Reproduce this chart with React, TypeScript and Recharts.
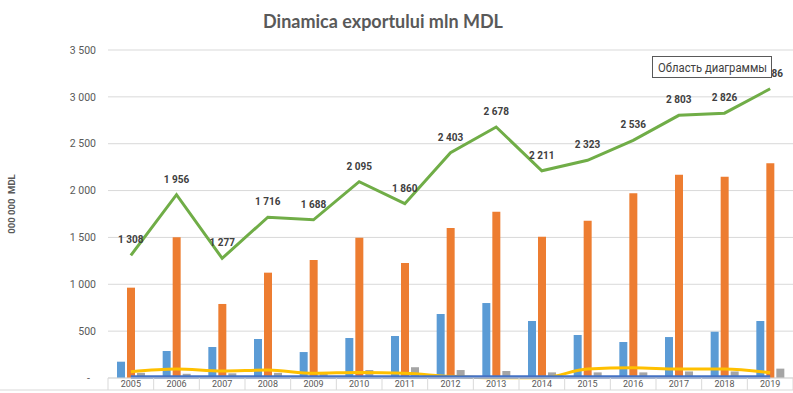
import React from 'react';
import { ComposedChart, Bar, Line, XAxis, YAxis, CartesianGrid, LabelList } from 'recharts';

const years = ['2005','2006','2007','2008','2009','2010','2011','2012','2013','2014','2015','2016','2017','2018','2019'];
const blueBars = [174, 288, 331, 416, 277, 427, 448, 683, 800, 608, 459, 384, 437, 494, 608];
const orangeBars = [964, 1501, 790, 1124, 1259, 1497, 1227, 1601, 1775, 1508, 1679, 1971, 2170, 2148, 2291];
const grayBars = [55, 45, 50, 55, 60, 85, 115, 85, 75, 60, 60, 60, 70, 70, 100];
const yellowLine = [67, 95, 75, 85, 50, 60, 50, 18, 2, 2, 95, 110, 95, 96, 55];
const darkBlueLine = [12, 12, 12, 12, 12, 12, 12, 12, 12, 12, 12, 12, 12, 12, 12];
const totalLine = [1308, 1956, 1277, 1716, 1688, 2095, 1860, 2403, 2678, 2211, 2323, 2536, 2803, 2826, 3086];
const yTicks = [0, 500, 1000, 1500, 2000, 2500, 3000, 3500];

const data = years.map((y, i) => ({
  year: y,
  blue: blueBars[i],
  orange: orangeBars[i],
  gray: grayBars[i],
  yellow: yellowLine[i],
  dark: darkBlueLine[i],
  total: totalLine[i],
}));

const fmt = (v: number) => String(v).replace(/\B(?=(\d{3})+(?!\d))/g, ' ');

const XTick = (props: any) => {
  const { x, y, payload, index, width, visibleTicksCount } = props;
  const n = visibleTicksCount || years.length;
  const bw = (width || 685) / n;
  return (
    <g>
      <line x1={x - bw / 2} x2={x - bw / 2} y1={y - 2} y2={y + 10} stroke="#d9d9d9" />
      {index === n - 1 && (
        <line x1={x + bw / 2} x2={x + bw / 2} y1={y - 2} y2={y + 10} stroke="#d9d9d9" />
      )}
      <text x={x} y={y} dy="0.75em" textAnchor="middle" fontSize={9} fontFamily="Roboto" fill="#595959">
        {payload.value}
      </text>
    </g>
  );
};

const YTick = (props: any) => {
  const { x, y, payload } = props;
  const v = payload.value;
  return (
    <text x={v === 0 ? x - 6 : x} y={y} dy="0.355em" textAnchor="end" fontSize={10.5} fontFamily="Roboto" fill="#595959">
      {v === 0 ? '-' : fmt(v)}
    </text>
  );
};

export default function App() {
  return (
    <div style={{ position: 'absolute', left: 0, top: 0, width: 793, height: 393, background: '#fff' }}>
      <ComposedChart
        width={793}
        height={393}
        data={data}
        margin={{ top: 50, right: 0, bottom: 0, left: 0 }}
        barGap={2}
      >
        <CartesianGrid vertical={false} stroke="#d9d9d9" />
        <XAxis
          dataKey="year"
          height={15}
          tickSize={0}
          tickMargin={2}
          axisLine={{ stroke: '#d9d9d9' }}
          tickLine={false}
          tick={<XTick />}
          interval={0}
        />
        <YAxis
          width={108}
          domain={[0, 3500]}
          ticks={yTicks}
          tickSize={0}
          tickMargin={12}
          axisLine={false}
          tickLine={false}
          tick={<YTick />}
          interval={0}
        />
        <Bar dataKey="blue" fill="#5B9BD5" barSize={8} isAnimationActive={false} />
        <Bar dataKey="orange" fill="#ED7D31" barSize={8} isAnimationActive={false} />
        <Bar dataKey="gray" fill="#A5A5A5" barSize={8} isAnimationActive={false} />
        <Line dataKey="yellow" type="monotone" stroke="#FFC000" strokeWidth={3} dot={false} isAnimationActive={false} />
        <Line dataKey="dark" type="linear" stroke="#4472C4" strokeWidth={3.5} dot={false} isAnimationActive={false} />
        <Line dataKey="total" type="linear" stroke="#70AD47" strokeWidth={3} dot={false} isAnimationActive={false}>
          <LabelList
            dataKey="total"
            position="top"
            offset={12}
            formatter={(v: any) => fmt(Number(v))}
            style={{ fontWeight: 700, fontSize: 10, fill: '#404040', fontFamily: 'Roboto' }}
          />
        </Line>
      </ComposedChart>
      <svg
        width={793}
        height={393}
        style={{ position: 'absolute', left: 0, top: 0, pointerEvents: 'none' }}
      >
        <text x={383} y={28} textAnchor="middle" fontSize={18} fontWeight={700} fontFamily="Lato" fill="#595959">
          Dinamica exportului mln MDL
        </text>
        <text
          x={15}
          y={204}
          transform="rotate(-90 15 204)"
          textAnchor="middle"
          fontSize={9.5}
          fontWeight={700}
          fontFamily="Roboto"
          fill="#595959"
          style={{ whiteSpace: 'pre' }}
        >
          000 000  MDL
        </text>
        <line x1={0} x2={793} y1={390} y2={390} stroke="#d9d9d9" />
        <rect x={652.5} y={56.5} width={119} height={21} fill="#fff" stroke="#595959" />
        <text x={658} y={71.5} fontSize={12} fontFamily="Roboto" fill="#404040" textLength={109} lengthAdjust="spacingAndGlyphs">
          Область диаграммы
        </text>
      </svg>
    </div>
  );
}
